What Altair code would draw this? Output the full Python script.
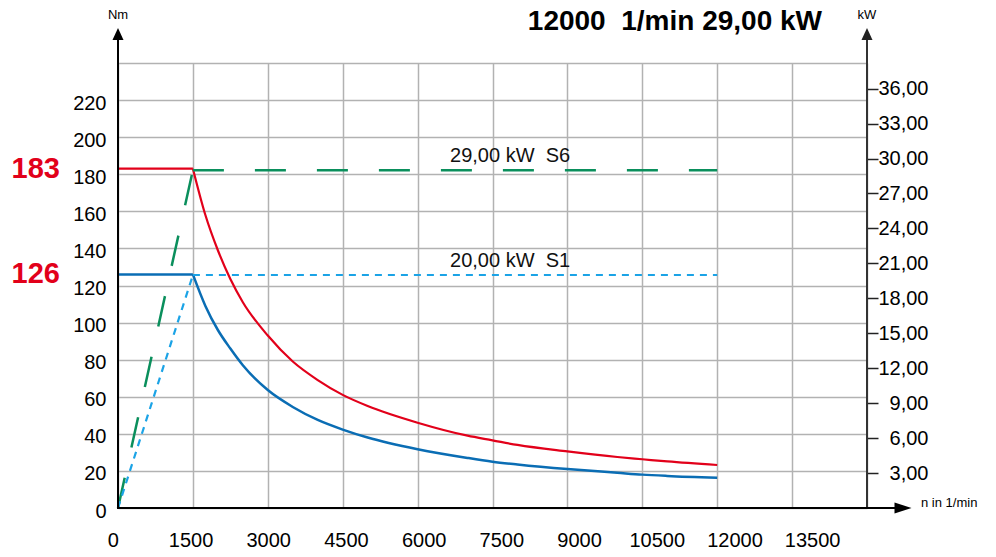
import altair as alt
import pandas as pd

# ---------------- data ----------------
flat_speed = [0, 1500]
flat_s6 = [183, 183]
flat_s1 = [126, 126]

speed = [1500, 1750, 2000, 2250, 2500, 3000, 3500, 4000, 4500, 5000,
         6000, 7000, 7500, 8000, 9000, 10000, 10500, 11000, 12000]
torque_s6 = [183, 158, 139, 123.5, 111, 93, 79, 69, 61, 55,
             46, 39, 36.5, 34, 30.5, 27.5, 26.3, 25.1, 23.2]
torque_s1 = [126, 109, 96, 86, 77, 63.6, 54.5, 47.5, 42.3, 38,
             31.7, 27, 25, 23.5, 21, 19, 18, 17.3, 16.3]

ramp_speed = [0, 1500]
ramp_s6 = [0, 29]
ramp_s1 = [0, 20]
const_speed = [1500, 12000]
const_s6 = [29, 29]
const_s1 = [20, 20]

x_tick_values = [0, 1500, 3000, 4500, 6000, 7500, 9000, 10500, 12000, 13500]
x_tick_labels = ["0", "1500", "3000", "4500", "6000", "7500", "9000", "10500", "12000", "13500"]
nm_ticks = list(range(0, 241, 20))
kw_ticks = [3, 6, 9, 12, 15, 18, 21, 24, 27, 30, 33, 36]

NB = "\u00a0"
title_text = "12000" + NB + " 1/min 29,00 kW"
power_labels = ["29,00 kW" + NB + " S6", "20,00 kW" + NB + " S1"]
power_label_values = [29, 20]
power_label_speed = [6650, 6650]
torque_marks = [183, 126]

# ---------------- styling ----------------
W, H = 749, 445
FONT = "Liberation Sans, Arial, Helvetica, sans-serif"
RED = "#e2001a"
BLUE = "#0a6db4"
LBLUE = "#1ba3e6"
GREEN = "#0a8f5c"
GRID = "#b2b2b2"

x_dom = [0, 15000]
nm_dom = [0, 240]
kw_dom = [0, 38.2]

one = pd.DataFrame({"a": [0]})
xs = alt.Scale(domain=x_dom, nice=False, zero=False)
ys = alt.Scale(domain=nm_dom, nice=False, zero=False)
ks = alt.Scale(domain=kw_dom, nice=False, zero=False)


def torque_line(n, t, color, width, interp="linear"):
    return alt.Chart(pd.DataFrame({"n": n, "T": t})).mark_line(
        color=color, strokeWidth=width, interpolate=interp).encode(
        x=alt.X("n:Q", scale=xs, axis=None),
        y=alt.Y("T:Q", scale=ys, axis=None))


def power_line(n, p, color, width, dash):
    return alt.Chart(pd.DataFrame({"n": n, "P": p})).mark_line(
        color=color, strokeWidth=width, strokeDash=dash).encode(
        x=alt.X("n:Q", scale=xs, axis=None),
        y=alt.Y("P:Q", scale=ks, axis=None))


# axes carrier (invisible line) for x grid and left y axis
axes_left = alt.Chart(pd.DataFrame({"n": flat_speed, "T": flat_s6})).mark_line(opacity=0).encode(
    x=alt.X("n:Q", scale=xs, axis=alt.Axis(
        values=list(range(0, 15001, 1500)), grid=True, gridColor=GRID, gridWidth=1.5,
        labels=False, ticks=False, domain=False, title=None)),
    y=alt.Y("T:Q", scale=ys, axis=alt.Axis(
        values=nm_ticks, grid=True, gridColor=GRID, gridWidth=1.5, ticks=False, tickSize=0,
        domain=False, labelExpr="datum.value == 240 ? '' : datum.label",
        labelFont=FONT, labelFontSize=20, labelColor="#000", labelPadding=12,
        labelOffset=3, title=None)),
)

axes_right = alt.Chart(pd.DataFrame({"n": const_speed, "P": const_s6})).mark_line(opacity=0).encode(
    x=alt.X("n:Q", scale=xs, axis=None),
    y=alt.Y("P:Q", scale=ks, axis=alt.Axis(
        orient="right", values=kw_ticks, grid=False, domain=False,
        ticks=True, tickSize=11, tickWidth=1.5, tickColor="#222",
        labelExpr="replace(format(datum.value, '.2f'), '.', ',')",
        labelAlign="right", labelPadding=50, labelBaseline="middle",
        labelFont=FONT, labelFontSize=20, labelColor="#000", title=None)),
)

red_flat = torque_line(flat_speed, flat_s6, RED, 2.2)
red_curve = torque_line(speed, torque_s6, RED, 2.2, "monotone")
blue_flat = torque_line(flat_speed, flat_s1, BLUE, 2.5)
blue_curve = torque_line(speed, torque_s1, BLUE, 2.5, "monotone")

green_ramp = power_line(ramp_speed, ramp_s6, GREEN, 2.5, [31, 31])
green_const = power_line(const_speed, const_s6, GREEN, 2.5, [31, 31])
lblue_ramp = power_line(ramp_speed, ramp_s1, LBLUE, 2.2, [7, 6])
lblue_const = power_line(const_speed, const_s1, LBLUE, 2.2, [7, 6])

plabels = alt.Chart(pd.DataFrame({"n": power_label_speed, "P": power_label_values, "lab": power_labels})).mark_text(
    align="left", baseline="alphabetic", dy=-8, font=FONT, fontSize=20, color="#111").encode(
    x=alt.X("n:Q", scale=xs, axis=None),
    y=alt.Y("P:Q", scale=ks, axis=None),
    text="lab:N",
)

tmarks = alt.Chart(pd.DataFrame({"T": torque_marks, "lab": [str(t) for t in torque_marks]})).mark_text(
    align="right", baseline="middle", font=FONT, fontSize=29,
    fontWeight="bold", color=RED).encode(
    x=alt.value(-58), y=alt.Y("T:Q", scale=ys, axis=None), text="lab:N")

xlabels = alt.Chart(pd.DataFrame({"v": x_tick_values, "lab": x_tick_labels})).mark_text(
    align="center", baseline="middle", font=FONT, fontSize=20, color="#000").encode(
    x=alt.X("v:Q", scale=alt.Scale(domain=[90, 14549], nice=False, zero=False), axis=None),
    y=alt.value(477.5),
    text="lab:N",
)

title = alt.Chart(pd.DataFrame({"t": [title_text]})).mark_text(
    align="right", baseline="alphabetic", font=FONT, fontSize=28,
    fontWeight="bold", color="#000").encode(x=alt.value(704), y=alt.value(-33), text="t:N")

left_line = alt.Chart(one).mark_rule(color="#000", strokeWidth=2).encode(
    x=alt.value(0), y=alt.value(-25), y2=alt.value(H + 1))
right_line = alt.Chart(one).mark_rule(color="#333", strokeWidth=2).encode(
    x=alt.value(W), y=alt.value(-25), y2=alt.value(H + 1))
bottom_line = alt.Chart(one).mark_rule(color="#000", strokeWidth=2).encode(
    x=alt.value(-1), x2=alt.value(780), y=alt.value(H))

UP = "M0,-1L0.917,1L-0.917,1Z"
RIGHT = "M1,0L-1,0.65L-1,-0.65Z"
arrow_l = alt.Chart(one).mark_point(shape=UP, filled=True, size=144, color="#000", opacity=1).encode(
    x=alt.value(0), y=alt.value(-29))
arrow_r = alt.Chart(one).mark_point(shape=UP, filled=True, size=144, color="#222", opacity=1).encode(
    x=alt.value(W), y=alt.value(-29))
arrow_b = alt.Chart(one).mark_point(shape=RIGHT, filled=True, size=289, color="#000", opacity=1).encode(
    x=alt.value(785), y=alt.value(H))


def caption(t, x, y, align):
    return alt.Chart(pd.DataFrame({"t": [t]})).mark_text(
        align=align, baseline="middle", font=FONT, fontSize=13, color="#000").encode(
        x=alt.value(x), y=alt.value(y), text="t:N")


chart = alt.layer(
    axes_left, axes_right,
    red_flat, red_curve, blue_flat, blue_curve,
    green_ramp, green_const, lblue_ramp, lblue_const,
    plabels, tmarks, xlabels, title,
    left_line, right_line, bottom_line, arrow_l, arrow_r, arrow_b,
    caption("Nm", 0, -48.5, "center"), caption("kW", W, -48.5, "center"),
    caption("n in 1/min", 803, 440, "left"),
).resolve_scale(x="independent", y="independent").properties(
    width=W, height=H,
    autosize=alt.AutoSizeParams(type="none"),
    padding={"left": 110, "top": 55, "right": 121, "bottom": 41},
    background="white",
).configure_view(stroke=None)

chart.save("out.html", embed_options={"renderer": "svg", "actions": False})
